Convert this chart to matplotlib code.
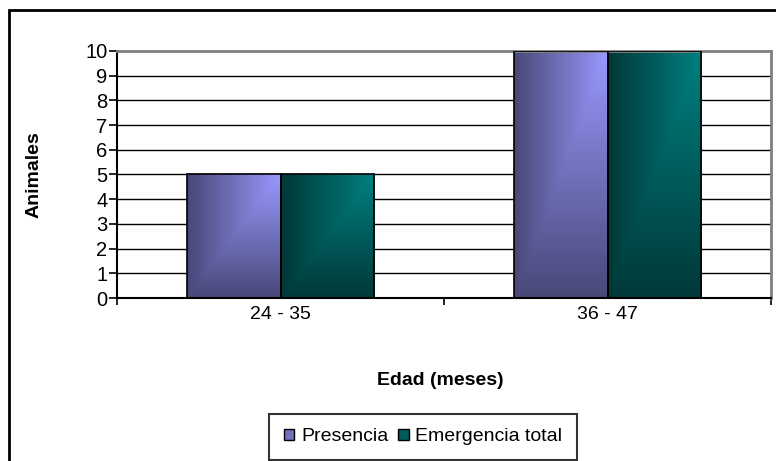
import matplotlib.pyplot as plt
import numpy as np
from matplotlib.patches import Patch, Rectangle

plt.rcParams['font.family'] = ['Liberation Sans', 'DejaVu Sans']

# Data
categories = ['24 - 35', '36 - 47']
presencia = [5, 10]
emergencia = [5, 10]
series_names = ['Presencia', 'Emergencia total']
yticks = list(range(0, 11))

# light / dark ends of each bar gradient
purple = (np.array([0x99, 0x99, 0xff]) / 255, np.array([0x48, 0x48, 0x78]) / 255)
teal = (np.array([0x00, 0x80, 0x80]) / 255, np.array([0x00, 0x38, 0x38]) / 255)


def gradient(light, dark, n=120):
    xs = np.linspace(0, 1, n)
    ys = np.linspace(1, 0, n)
    X, Y = np.meshgrid(xs, ys)
    t = np.minimum(X, Y)[..., None]
    return dark + (light - dark) * t


fig = plt.figure(figsize=(7.76, 4.61), dpi=100)
ax = fig.add_axes([117 / 776, 1 - 298 / 461, 654 / 776, 247 / 461])

x = np.arange(len(categories)) + 0.5
w = 0.285
b1 = ax.bar(x - w / 2, presencia, w, facecolor='none', edgecolor='black', linewidth=1.2, zorder=3)
b2 = ax.bar(x + w / 2, emergencia, w, facecolor='none', edgecolor='black', linewidth=1.2, zorder=3)

for bars, (light, dark) in ((b1, purple), (b2, teal)):
    img = gradient(light, dark)
    for p in bars:
        ax.imshow(img, extent=[p.get_x(), p.get_x() + p.get_width(), 0, p.get_height()],
                  aspect='auto', zorder=2, interpolation='bilinear')

ax.set_xlim(0, len(categories))
ax.set_ylim(0, 10)
ax.set_yticks(yticks)
ax.set_xticks(np.arange(len(categories) + 1))
ax.set_xticklabels([])
ax.set_xticks(x, minor=True)
ax.set_xticklabels(categories, minor=True)
ax.tick_params(axis='x', which='minor', length=0, pad=6, labelsize=14)
ax.tick_params(axis='x', which='major', direction='out', length=5, width=1.2)
ax.tick_params(axis='y', direction='out', length=6, width=1.2, labelsize=14.5, pad=1)
ax.yaxis.grid(True, color='black', linewidth=1)
ax.set_axisbelow(True)

for side in ('top', 'right'):
    ax.spines[side].set_color('#808080')
    ax.spines[side].set_linewidth(2)
for side in ('left', 'bottom'):
    ax.spines[side].set_linewidth(1.5)

ax.set_xlabel('Edad (meses)', fontsize=14, fontweight='bold', va='center')
ax.xaxis.set_label_coords(0.495, -0.332)
ax.set_ylabel('Animales', fontsize=14, fontweight='bold', va='center')
ax.yaxis.set_label_coords(-0.127, 0.498)

# outer chart border
fig.patches.append(Rectangle((8.5 / 776, -0.1), 1.2, 1 - 10.5 / 461 + 0.1,
                             transform=fig.transFigure, fill=False, edgecolor='black',
                             linewidth=2, clip_on=False))

handles = [Patch(facecolor=(purple[0] + purple[1]) / 2, edgecolor='black'),
           Patch(facecolor=(teal[0] + teal[1]) / 2, edgecolor='black')]
leg = fig.legend(handles, series_names, loc='lower center', bbox_to_anchor=(423 / 776, 1 / 461),
                 ncol=2, fontsize=14, frameon=True, fancybox=False, edgecolor='black',
                 handlelength=0.55, handleheight=0.55, handletextpad=0.35, columnspacing=0.5,
                 borderpad=0.75, borderaxespad=0)
leg.get_frame().set_linewidth(1.5)

fig.savefig('out.png', dpi=100)
